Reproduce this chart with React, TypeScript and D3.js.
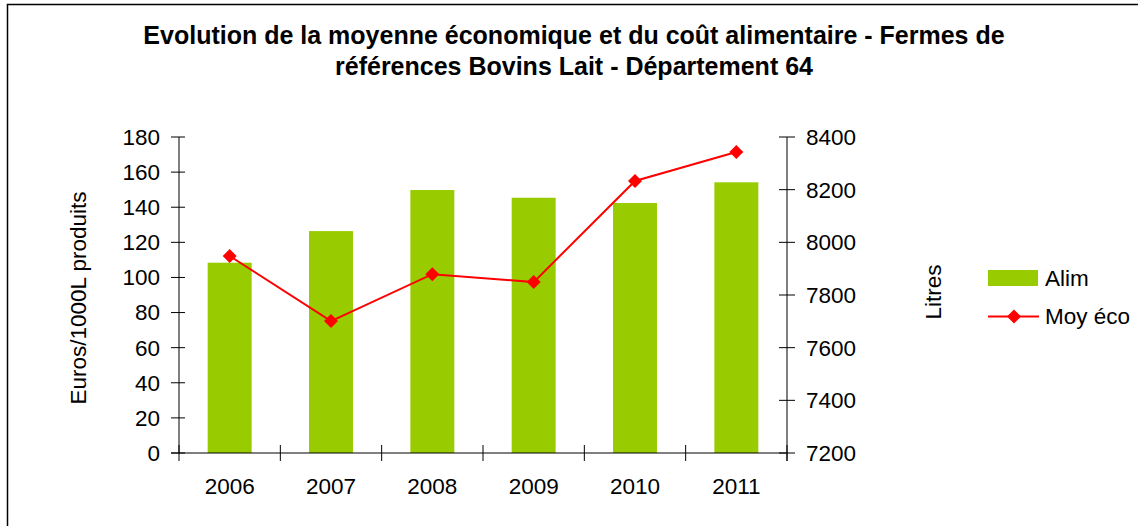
import React from "react";
import * as d3 from "d3";

const years = ["2006", "2007", "2008", "2009", "2010", "2011"];
const alim = [108.4, 126.4, 149.8, 145.4, 142.4, 154.2];
const moyEco = [7948, 7701, 7879, 7849, 8233, 8343];
const leftTicks = [0, 20, 40, 60, 80, 100, 120, 140, 160, 180];
const rightTicks = [7200, 7400, 7600, 7800, 8000, 8200, 8400];
const titleLines = [
  "Evolution de la moyenne économique et du coût alimentaire - Fermes de",
  "références Bovins Lait - Département 64",
];

const W = 1138;
const H = 526;
const FONT = "Liberation Sans, Arial, sans-serif";
const FS = 22.5;

export default function App() {
  const x0 = 179, x1 = 787, yTop = 137, yBot = 453;
  const x = d3.scaleBand<string>().domain(years).range([x0, x1]).paddingInner(0.566).paddingOuter(0.283);
  const yL = d3.scaleLinear().domain([0, 180]).range([yBot, yTop]);
  const yR = d3.scaleLinear().domain([7200, 8400]).range([yBot, yTop]);
  const step = x.step();
  const cx = (d: string) => (x(d) as number) + x.bandwidth() / 2;
  const line = d3.line<number>().x((_, i) => cx(years[i])).y((d) => yR(d));
  const diamond = (px: number, py: number, r: number) =>
    `M${px},${py - r}L${px + r},${py}L${px},${py + r}L${px - r},${py}Z`;
  const axisColor = "#000";

  return (
    <div style={{ position: "fixed", left: 0, top: 0 }}>
      <svg width={W} height={H} style={{ display: "block" }} fontFamily={FONT}>
        <rect x={0} y={0} width={W} height={H} fill="#fff" />
        <rect x={7.5} y={4.5} width={W + 20} height={H + 20} fill="none" stroke="#000" strokeWidth={1.5} />
        {titleLines.map((t, i) => (
          <text key={i} x={574} y={44 + i * 31} textAnchor="middle" fontWeight="bold" fontSize={25} fill="#000">
            {t}
          </text>
        ))}
        {/* bars */}
        {years.map((yr, i) => (
          <rect key={yr} x={x(yr)} y={yL(alim[i])} width={x.bandwidth()} height={yBot - yL(alim[i])} fill="#99CC00" />
        ))}
        {/* left axis */}
        <line x1={x0} x2={x0} y1={yTop} y2={yBot} stroke={axisColor} strokeWidth={1} />
        {leftTicks.map((t) => (
          <g key={t}>
            <line x1={x0 - 8} x2={x0 + 6} y1={yL(t)} y2={yL(t)} stroke={axisColor} />
            <text x={160} y={yL(t)} dy="0.35em" textAnchor="end" fontSize={FS} fill="#000">{t}</text>
          </g>
        ))}
        {/* right axis */}
        <line x1={x1} x2={x1} y1={yTop} y2={yBot + 8} stroke={axisColor} strokeWidth={1} />
        {rightTicks.map((t) => (
          <g key={t}>
            <line x1={x1 - 8} x2={x1 + 8} y1={yR(t)} y2={yR(t)} stroke={axisColor} />
            <text x={806} y={yR(t)} dy="0.35em" textAnchor="start" fontSize={FS} fill="#000">{t}</text>
          </g>
        ))}
        {/* x axis */}
        <line x1={x0 - 8} x2={x1} y1={yBot} y2={yBot} stroke={axisColor} />
        {d3.range(years.length + 1).map((i) => (
          <line key={i} x1={x0 + i * step} x2={x0 + i * step} y1={yBot - 8} y2={yBot + 8} stroke={axisColor} />
        ))}
        {years.map((yr) => (
          <text key={yr} x={cx(yr)} y={494} textAnchor="middle" fontSize={FS} fill="#000">{yr}</text>
        ))}
        {/* line */}
        <path d={line(moyEco) || ""} fill="none" stroke="#FF0000" strokeWidth={2} />
        {moyEco.map((v, i) => (
          <path key={i} d={diamond(cx(years[i]), yR(v), 7)} fill="#FF0000" />
        ))}
        {/* axis titles */}
        <text transform="translate(86,298) rotate(-90)" textAnchor="middle" fontSize={FS} fill="#000">Euros/1000L produits</text>
        <text transform="translate(941,292) rotate(-90)" textAnchor="middle" fontSize={FS} fill="#000">Litres</text>
        {/* legend */}
        <rect x={988} y={270} width={50} height={16} fill="#99CC00" />
        <text x={1045} y={278} dy="0.35em" fontSize={FS} fill="#000">Alim</text>
        <line x1={988} x2={1039} y1={316.5} y2={316.5} stroke="#FF0000" strokeWidth={2} />
        <path d={diamond(1014, 316.5, 7)} fill="#FF0000" />
        <text x={1045} y={316.5} dy="0.35em" fontSize={FS} fill="#000">Moy éco</text>
      </svg>
    </div>
  );
}
